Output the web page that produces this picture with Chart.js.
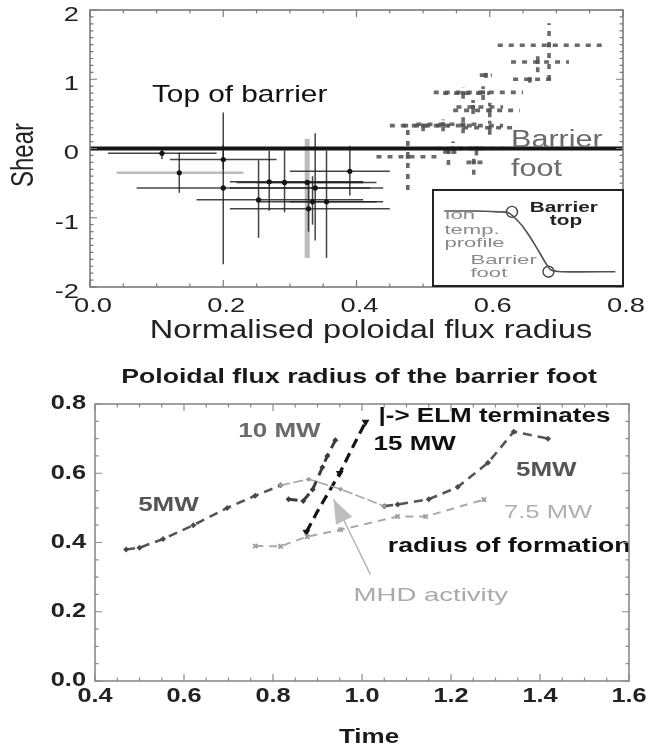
<!DOCTYPE html>
<html>
<head>
<meta charset="utf-8">
<script src="https://cdn.jsdelivr.net/npm/chart.js@4.4.0/dist/chart.umd.min.js"></script>
<style>
  html, body { margin: 0; padding: 0; background: #fff; }
  #wrap { position: relative; width: 649px; height: 746px; overflow: hidden; background: #fff; }
  canvas { position: absolute; display: block; }
</style>
</head>
<body>
<div id="wrap">
  <canvas id="shearChart" width="649" height="350" style="left:0;top:0;"></canvas>
  <canvas id="insetChart" width="192" height="98" style="left:432px;top:189px;"></canvas>
  <canvas id="footChart" width="649" height="396" style="left:0;top:350px;"></canvas>
</div>
<script>
// ---------- Upper panel: shear vs normalised poloidal flux radius ----------
const radiusTicks = [0.0, 0.2, 0.4, 0.6, 0.8];
const radiusTickLabels = ['0.0', '0.2', '0.4', '0.6', '0.8'];
const shearTicks = [-2, -1, 0, 1, 2];
const shearTickLabels = ['-2', '-1', '0', '1', '2'];

// reference line at zero shear
const zeroLineRadius = [0.0, 0.8];
const zeroLineShear = [0, 0];

// core points (solid error bars)
const coreRadius     = [0.108, 0.134, 0.200, 0.200, 0.253, 0.269, 0.292, 0.326, 0.338, 0.334, 0.328, 0.355, 0.390];
const coreShear      = [-0.07, -0.35, -0.16, -0.57, -0.74, -0.48, -0.49, -0.49, -0.57, -0.77, -0.87, -0.77, -0.33];
const coreRadiusLow  = [0.027, 0.134, 0.120, 0.070, 0.160, 0.210, 0.220, 0.250, 0.210, 0.250, 0.210, 0.300, 0.300];
const coreRadiusHigh = [0.190, 0.134, 0.280, 0.420, 0.410, 0.410, 0.430, 0.410, 0.440, 0.430, 0.450, 0.440, 0.450];
const coreShearLow   = [-0.15, -0.64, -0.30, -1.67, -1.29, -0.90, -0.92, -0.49, -1.33, -1.10, -1.20, -1.58, -0.68];
const coreShearHigh  = [0.00, -0.06, 0.05, 0.52, -0.17, -0.03, -0.03, -0.49, 0.22, -0.40, -0.50, -0.03, 0.04];

// second diagnostic (lighter error bars)
const auxRadius     = [0.134, 0.326];
const auxShear      = [-0.35, -0.49];
const auxRadiusLow  = [0.040, 0.326];
const auxRadiusHigh = [0.230, 0.326];
const auxShearLow   = [-0.35, -1.58];
const auxShearHigh  = [-0.35, 0.14];

// edge points (dashed error bars)
const edgeRadius     = [0.689, 0.672, 0.660, 0.594, 0.590, 0.560, 0.600, 0.575, 0.560, 0.530, 0.600, 0.545, 0.580, 0.477, 0.576, 0.538, 0.500];
const edgeShear      = [1.49, 1.25, 1.00, 1.06, 0.81, 0.80, 0.55, 0.60, 0.33, 0.35, 0.30, 0.00, 0.00, -0.12, -0.20, -0.05, 0.33];
const edgeRadiusLow  = [0.612, 0.632, 0.635, 0.585, 0.516, 0.530, 0.545, 0.550, 0.450, 0.490, 0.560, 0.520, 0.550, 0.430, 0.565, 0.530, 0.470];
const edgeRadiusHigh = [0.771, 0.719, 0.695, 0.603, 0.650, 0.600, 0.645, 0.620, 0.620, 0.580, 0.640, 0.600, 0.620, 0.520, 0.590, 0.550, 0.540];
const edgeShearLow   = [0.99, 1.10, 0.95, 1.02, 0.70, 0.72, 0.45, 0.50, 0.22, 0.25, 0.20, -0.08, -0.10, -0.60, -0.38, -0.24, 0.25];
const edgeShearHigh  = [1.81, 1.38, 1.05, 1.10, 0.90, 0.88, 0.66, 0.70, 0.45, 0.42, 0.40, 0.10, 0.05, 0.31, -0.10, 0.05, 0.40];

// ---------- Inset: ion temperature profile sketch ----------
const profileRadius = [0.03, 0.20, 0.33, 0.39, 0.44, 0.49, 0.55, 0.60, 0.63, 0.69, 0.99];
const profileTemp   = [0.82, 0.82, 0.81, 0.80, 0.71, 0.58, 0.38, 0.20, 0.12, 0.10, 0.10];
const markRadius = [0.41, 0.615];
const markTemp   = [0.81, 0.10];

// ---------- Lower panel: poloidal flux radius of the barrier foot vs time ----------
const timeTicks = [0.4, 0.6, 0.8, 1.0, 1.2, 1.4, 1.6];
const timeTickLabels = ['0.4', '0.6', '0.8', '1.0', '1.2', '1.4', '1.6'];
const footTicks = [0.0, 0.2, 0.4, 0.6, 0.8];
const footTickLabels = ['0.0', '0.2', '0.4', '0.6', '0.8'];

const time5a = [0.47, 0.50, 0.553, 0.621, 0.697, 0.760, 0.817];
const foot5a = [0.380, 0.385, 0.410, 0.450, 0.500, 0.535, 0.565];
const timeMhd = [0.817, 0.880, 0.952, 1.050];
const footMhd = [0.565, 0.583, 0.554, 0.505];
const time5b = [1.050, 1.080, 1.150, 1.215, 1.283, 1.341, 1.418];
const foot5b = [0.505, 0.510, 0.525, 0.560, 0.630, 0.720, 0.700];
const time10 = [0.835, 0.868, 0.889, 0.911, 0.922, 0.940];
const foot10 = [0.525, 0.520, 0.553, 0.617, 0.650, 0.695];
const time15 = [0.875, 0.900, 0.925, 0.950, 0.975, 1.008];
const foot15 = [0.430, 0.490, 0.545, 0.600, 0.665, 0.748];
const time75 = [0.760, 0.817, 0.877, 0.952, 1.080, 1.143, 1.274];
const foot75 = [0.390, 0.389, 0.417, 0.437, 0.475, 0.475, 0.524];
const mhdArrowTime = [1.019, 0.936];
const mhdArrowFoot = [0.307, 0.525];

// ---------- helpers ----------
const FAMILY = '"Liberation Sans", Arial, Helvetica, sans-serif';
const pts = (xs, ys) => xs.map((v, i) => ({ x: v, y: ys[i] }));

function drawText(ctx, text, x, y, f) {
  ctx.save();
  ctx.translate(x, y);
  ctx.scale(f.sx || 1.3, 1);
  if (f.rot) ctx.rotate(f.rot);
  ctx.font = (f.bold ? 'bold ' : '') + f.size + 'px ' + FAMILY;
  ctx.fillStyle = f.color || '#111';
  ctx.textAlign = f.align || 'left';
  ctx.textBaseline = f.base || 'alphabetic';
  ctx.fillText(text, 0, 0);
  ctx.restore();
}

const errorBarPlugin = {
  id: 'errorBars',
  beforeDatasetsDraw(chart) {
    const { ctx, scales: { x, y } } = chart;
    ctx.save();
    ctx.beginPath();
    ctx.rect(chart.chartArea.left, chart.chartArea.top, chart.chartArea.width, chart.chartArea.height);
    ctx.clip();
    chart.data.datasets.forEach(ds => {
      const e = ds.errorBars;
      if (!e) return;
      ctx.save();
      ctx.strokeStyle = e.color;
      ctx.setLineDash(e.dash || []);
      ds.data.forEach((p, k) => {
        const px = x.getPixelForValue(p.x), py = y.getPixelForValue(p.y);
        if (e.xLow[k] !== e.xHigh[k]) {
          ctx.lineWidth = e.xWidth;
          ctx.beginPath();
          ctx.moveTo(x.getPixelForValue(e.xLow[k]), py);
          ctx.lineTo(x.getPixelForValue(e.xHigh[k]), py);
          ctx.stroke();
        }
        if (e.yLow[k] !== e.yHigh[k]) {
          ctx.lineWidth = e.yWidth;
          ctx.beginPath();
          ctx.moveTo(px, y.getPixelForValue(e.yLow[k]));
          ctx.lineTo(px, y.getPixelForValue(e.yHigh[k]));
          ctx.stroke();
        }
      });
      ctx.restore();
    });
    ctx.restore();
  }
};

// plot frame with inward major/minor ticks and stretched tick labels
function framePlugin(cfg) {
  return {
    id: 'frame',
    afterDraw(chart) {
      const { ctx, chartArea: a, scales: { x, y } } = chart;
      ctx.save();
      ctx.strokeStyle = cfg.color;
      ctx.lineWidth = cfg.lineWidth;
      ctx.strokeRect(a.left, a.top, a.right - a.left, a.bottom - a.top);
      ctx.lineWidth = 1.2;
      ctx.beginPath();
      const isMajor = (v, list) => list.some(t => Math.abs(t - v) < 1e-6);
      const nx = Math.round((x.max - x.min) / cfg.xMinor);
      for (let i = 0; i <= nx; i++) {
        const v = x.min + i * cfg.xMinor;
        const p = x.getPixelForValue(v);
        const len = isMajor(v, cfg.xTicks) ? cfg.majorLen : cfg.minorLen;
        ctx.moveTo(p, a.bottom); ctx.lineTo(p, a.bottom - len);
        ctx.moveTo(p, a.top); ctx.lineTo(p, a.top + len);
      }
      const ny = Math.round((y.max - y.min) / cfg.yMinor);
      for (let i = 0; i <= ny; i++) {
        const v = y.min + i * cfg.yMinor;
        const p = y.getPixelForValue(v);
        const len = isMajor(v, cfg.yTicks) ? cfg.majorLen : cfg.minorLen;
        ctx.moveTo(a.left, p); ctx.lineTo(a.left + len, p);
        ctx.moveTo(a.right, p); ctx.lineTo(a.right - len, p);
      }
      ctx.stroke();
      ctx.restore();
      cfg.xTicks.forEach((v, i) => drawText(ctx, cfg.xLabels[i], x.getPixelForValue(v) + cfg.xLabelDx, a.bottom + cfg.xLabelDy,
        Object.assign({ align: 'center', base: 'alphabetic' }, cfg.tickFont)));
      cfg.yTicks.forEach((v, i) => drawText(ctx, cfg.yLabels[i], a.left + cfg.yLabelDx, y.getPixelForValue(v) + cfg.yLabelDy,
        Object.assign({ align: 'right', base: 'middle' }, cfg.tickFont)));
      (cfg.titles || []).forEach(t => drawText(ctx, t.text, a.left + t.dx, t.fromBottom ? a.bottom + t.dy : a.top + t.dy, t.font));
    }
  };
}

// text annotations placed in data coordinates
function notesPlugin(list) {
  return {
    id: 'notes',
    afterDatasetsDraw(chart) {
      const { ctx, scales: { x, y } } = chart;
      list.forEach(n => drawText(ctx, n.text, x.getPixelForValue(n.x), y.getPixelForValue(n.y), n.font));
    }
  };
}

const baseOptions = (pad, xr, yr) => ({
  responsive: false,
  animation: false,
  events: [],
  layout: { padding: pad },
  scales: {
    x: { type: 'linear', min: xr[0], max: xr[1], display: false },
    y: { type: 'linear', min: yr[0], max: yr[1], display: false }
  },
  plugins: { legend: { display: false }, tooltip: { enabled: false } }
});

// ---------- upper chart ----------
new Chart(document.getElementById('shearChart'), {
  type: 'scatter',
  data: {
    datasets: [
      {
        type: 'line', data: pts(zeroLineRadius, zeroLineShear),
        borderColor: '#151515', borderWidth: 3.8, pointRadius: 0
      },
      {
        data: pts(auxRadius, auxShear), pointRadius: 0,
        errorBars: { xLow: auxRadiusLow, xHigh: auxRadiusHigh, yLow: auxShearLow, yHigh: auxShearHigh,
          color: 'rgba(160,160,160,0.7)', xWidth: 2.5, yWidth: 5 }
      },
      {
        data: pts(coreRadius, coreShear), pointRadius: 2.6, backgroundColor: '#151515', borderWidth: 0,
        errorBars: { xLow: coreRadiusLow, xHigh: coreRadiusHigh, yLow: coreShearLow, yHigh: coreShearHigh,
          color: 'rgba(35,35,35,0.85)', xWidth: 1.5, yWidth: 1.5 }
      },
      {
        data: pts(edgeRadius, edgeShear), pointStyle: 'rect', pointRadius: 2.8, backgroundColor: '#555', borderWidth: 0,
        errorBars: { xLow: edgeRadiusLow, xHigh: edgeRadiusHigh, yLow: edgeShearLow, yHigh: edgeShearHigh,
          color: 'rgba(80,80,80,0.85)', xWidth: 3.6, yWidth: 3.6, dash: [5, 6] }
      }
    ]
  },
  options: baseOptions({ left: 90, right: 26, top: 10, bottom: 63 }, [0, 0.8], [-2, 2]),
  plugins: [
    errorBarPlugin,
    notesPlugin([
      { text: 'Top of barrier', x: 0.093, y: 0.667, font: { size: 24, sx: 1.24, color: '#111' } },
      { text: 'Barrier', x: 0.632, y: 0.015, font: { size: 23.5, sx: 1.3, color: '#6a6a6a' } },
      { text: 'foot', x: 0.632, y: -0.39, font: { size: 23.5, sx: 1.3, color: '#6a6a6a' } }
    ]),
    framePlugin({
      color: '#7a7a7a', lineWidth: 1.6, majorLen: 7, minorLen: 3.5,
      xMinor: 0.05, yMinor: 0.1, xTicks: radiusTicks, yTicks: shearTicks,
      xLabels: radiusTickLabels, yLabels: shearTickLabels,
      xLabelDx: 3, xLabelDy: 25, yLabelDx: -11, yLabelDy: 5,
      tickFont: { size: 21, sx: 1.3, color: '#222' },
      titles: [
        { text: 'Normalised poloidal flux radius', dx: 281, dy: 51, fromBottom: true,
          font: { size: 25, sx: 1.3, align: 'center', color: '#222' } },
        { text: 'Shear', dx: -66, dy: 145, fromBottom: false,
          font: { size: 24, sx: 1.3, align: 'center', base: 'middle', rot: -Math.PI / 2, color: '#222' } }
      ]
    })
  ]
});

// ---------- inset chart ----------
new Chart(document.getElementById('insetChart'), {
  type: 'scatter',
  data: {
    datasets: [
      {
        type: 'line', data: pts(profileRadius, profileTemp),
        borderColor: '#505050', borderWidth: 1.6, pointRadius: 0, tension: 0.3
      },
      {
        data: pts(markRadius, markTemp), pointStyle: 'circle', pointRadius: 5.5,
        borderColor: '#444', borderWidth: 1.4, backgroundColor: 'rgba(255,255,255,0)'
      }
    ]
  },
  options: baseOptions({ left: 0, right: 0, top: 0, bottom: 0 }, [0, 1], [0, 1]),
  plugins: [
    {
      id: 'insetBg',
      beforeDraw(chart) {
        const { ctx } = chart;
        ctx.save();
        ctx.fillStyle = '#fff';
        ctx.fillRect(0, 0, chart.width, chart.height);
        ctx.restore();
      },
      afterDraw(chart) {
        const { ctx } = chart;
        ctx.save();
        ctx.strokeStyle = '#222';
        ctx.lineWidth = 2;
        ctx.strokeRect(1, 1, chart.width - 2, chart.height - 2);
        ctx.restore();
      }
    },
    notesPlugin([
      { text: 'Barrier', x: 0.51, y: 0.806, font: { size: 14, bold: true, sx: 1.48, color: '#222' } },
      { text: 'top', x: 0.713, y: 0.653, font: { size: 14, bold: true, sx: 1.48, color: '#222', align: 'center' } },
      { text: 'Ion', x: 0.031, y: 0.724, font: { size: 13, sx: 1.7, color: '#8a8a8a' } },
      { text: 'temp.', x: 0.031, y: 0.551, font: { size: 13, sx: 1.7, color: '#8a8a8a' } },
      { text: 'profile', x: 0.031, y: 0.398, font: { size: 13, sx: 1.7, color: '#8a8a8a' } },
      { text: 'Barrier', x: 0.177, y: 0.194, font: { size: 13, sx: 1.7, color: '#8a8a8a' } },
      { text: 'foot', x: 0.177, y: 0.041, font: { size: 13, sx: 1.7, color: '#8a8a8a' } }
    ])
  ]
});

// ---------- lower chart ----------
const arrowHeadPlugin = {
  id: 'arrowHead',
  afterDatasetsDraw(chart) {
    const { ctx, scales: { x, y } } = chart;
    const x0 = x.getPixelForValue(mhdArrowTime[0]), y0 = y.getPixelForValue(mhdArrowFoot[0]);
    const x1 = x.getPixelForValue(mhdArrowTime[1]), y1 = y.getPixelForValue(mhdArrowFoot[1]);
    const ang = Math.atan2(y1 - y0, x1 - x0);
    const L = 24, W = 9;
    const bx = x1 - L * Math.cos(ang), by = y1 - L * Math.sin(ang);
    ctx.save();
    ctx.fillStyle = '#bdbdbd';
    ctx.beginPath();
    ctx.moveTo(x1, y1);
    ctx.lineTo(bx + W * Math.sin(ang), by - W * Math.cos(ang));
    ctx.lineTo(bx - W * Math.sin(ang), by + W * Math.cos(ang));
    ctx.closePath();
    ctx.fill();
    ctx.restore();
  }
};

new Chart(document.getElementById('footChart'), {
  type: 'scatter',
  data: {
    datasets: [
      {
        type: 'line', data: pts(time75, foot75), borderColor: '#a9a9a9', borderWidth: 2, borderDash: [8, 6],
        pointStyle: 'crossRot', pointRadius: 3, pointBorderColor: '#a0a0a0', pointBorderWidth: 2
      },
      {
        type: 'line', data: pts(timeMhd, footMhd), borderColor: '#a5a5a5', borderWidth: 1.6, borderDash: [10, 3],
        pointStyle: 'rectRot', pointRadius: 2.5, pointBackgroundColor: '#9a9a9a', pointBorderWidth: 0
      },
      {
        type: 'line', data: pts(time5a, foot5a), borderColor: '#555', borderWidth: 2.6, borderDash: [9, 6],
        pointStyle: 'rectRot', pointRadius: 3, pointBackgroundColor: '#4a4a4a', pointBorderWidth: 0
      },
      {
        type: 'line', data: pts(time5b, foot5b), borderColor: '#555', borderWidth: 2.6, borderDash: [9, 6],
        pointStyle: 'rectRot', pointRadius: 3, pointBackgroundColor: '#4a4a4a', pointBorderWidth: 0
      },
      {
        type: 'line', data: pts(time10, foot10), borderColor: '#3c3c3c', borderWidth: 3, borderDash: [9, 6],
        pointStyle: 'rectRot', pointRadius: 3, pointBackgroundColor: '#3c3c3c', pointBorderWidth: 0
      },
      {
        type: 'line', data: pts(time15, foot15), borderColor: '#141414', borderWidth: 3.2, borderDash: [10, 6],
        pointStyle: 'triangle', rotation: 180, pointBackgroundColor: '#141414', pointBorderWidth: 0,
        pointRadius: ctx => (ctx.dataIndex === 0 || ctx.dataIndex === 3 || ctx.dataIndex === 5) ? 4.5 : 0
      },
      {
        type: 'line', data: pts(mhdArrowTime, mhdArrowFoot), borderColor: '#b5b5b5', borderWidth: 1.5, pointRadius: 0
      }
    ]
  },
  options: baseOptions({ left: 95, right: 20, top: 54, bottom: 65 }, [0.4, 1.6], [0, 0.8]),
  plugins: [
    arrowHeadPlugin,
    notesPlugin([
      { text: '10 MW', x: 0.722, y: 0.704, font: { size: 20, bold: true, sx: 1.3, color: '#6a6a6a' } },
      { text: '5MW', x: 0.497, y: 0.49, font: { size: 20, bold: true, sx: 1.3, color: '#555' } },
      { text: '15 MW', x: 1.026, y: 0.667, font: { size: 20, bold: true, sx: 1.3, color: '#111' } },
      { text: '|-> ELM terminates', x: 1.037, y: 0.748, font: { size: 20, bold: true, sx: 1.3, color: '#111' } },
      { text: '5MW', x: 1.346, y: 0.591, font: { size: 20, bold: true, sx: 1.3, color: '#555' } },
      { text: '7.5 MW', x: 1.319, y: 0.472, font: { size: 19, sx: 1.35, color: '#b0b0b0' } },
      { text: 'radius of formation', x: 1.058, y: 0.374, font: { size: 20.5, bold: true, sx: 1.3, color: '#111' } },
      { text: 'MHD activity', x: 0.981, y: 0.232, font: { size: 19, sx: 1.45, color: '#aaaaaa' } }
    ]),
    framePlugin({
      color: '#8a8a8a', lineWidth: 1.6, majorLen: 7, minorLen: 3.5,
      xMinor: 0.05, yMinor: 0.05, xTicks: timeTicks, yTicks: footTicks,
      xLabels: timeTickLabels, yLabels: footTickLabels,
      xLabelDx: 0, xLabelDy: 21, yLabelDx: -9, yLabelDy: 0,
      tickFont: { size: 19.5, bold: true, sx: 1.3, color: '#222' },
      titles: [
        { text: 'Poloidal flux radius of the barrier foot', dx: 264, dy: -21, fromBottom: false,
          font: { size: 21, bold: true, sx: 1.27, align: 'center', color: '#1a1a1a' } },
        { text: 'Time', dx: 274, dy: 62, fromBottom: true,
          font: { size: 20, bold: true, sx: 1.3, align: 'center', color: '#1a1a1a' } }
      ]
    })
  ]
});
</script>
</body>
</html>
